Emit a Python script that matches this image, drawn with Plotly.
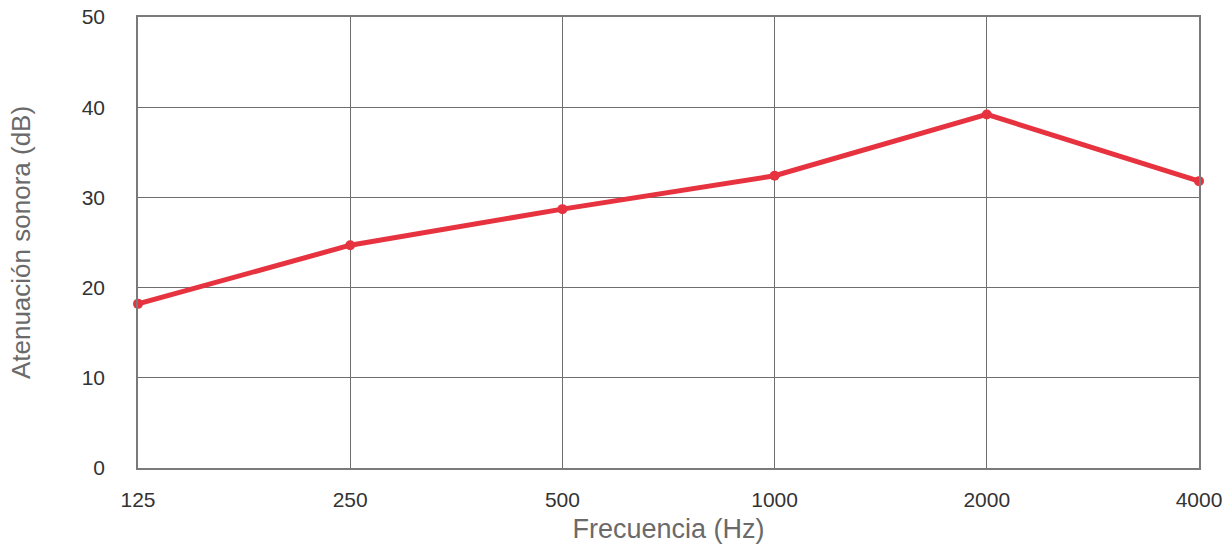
import plotly.graph_objects as go

freqs = ["125", "250", "500", "1000", "2000", "4000"]
atten = [18.2, 24.7, 28.7, 32.4, 39.2, 31.8]
y_ticks = [0, 10, 20, 30, 40, 50]

fig = go.Figure()
fig.add_trace(go.Scatter(
    x=freqs, y=atten, mode="lines+markers",
    line=dict(color="#E6333F", width=5),
    marker=dict(color="#E6333F", size=10),
    cliponaxis=False, showlegend=False,
))

fig.update_layout(
    width=1224, height=544,
    margin=dict(l=138, r=25, t=17, b=76),
    paper_bgcolor="white", plot_bgcolor="white",
    font=dict(family="Liberation Sans, Arial, sans-serif", color="#333333", size=21),
)
fig.update_xaxes(
    type="category", range=[0, 5], automargin=False, ticklabeloverflow="allow",
    showgrid=True, gridcolor="#6e6e6e", gridwidth=1,
    showline=True, linecolor="#7a7a7a", linewidth=1.5, mirror=True,
    ticks="", ticklabelstandoff=12,
    title=dict(text="Frecuencia (Hz)", font=dict(size=27, color="#6a6a6a"), standoff=9),
    zeroline=False,
)
fig.update_yaxes(
    range=[0, 50], tickvals=y_ticks, automargin=False, ticklabeloverflow="allow",
    showgrid=True, gridcolor="#6e6e6e", gridwidth=1,
    showline=True, linecolor="#7a7a7a", linewidth=1.5, mirror=True,
    ticks="", ticklabelstandoff=27,
    title=dict(text="Atenuación sonora (dB)", font=dict(size=26, color="#6a6a6a"), standoff=44),
    zeroline=False,
)

fig.write_html(
    "out.html",
    config={"displayModeBar": False},
    post_script="document.body.style.margin='0';document.body.style.overflow='hidden';",
)
